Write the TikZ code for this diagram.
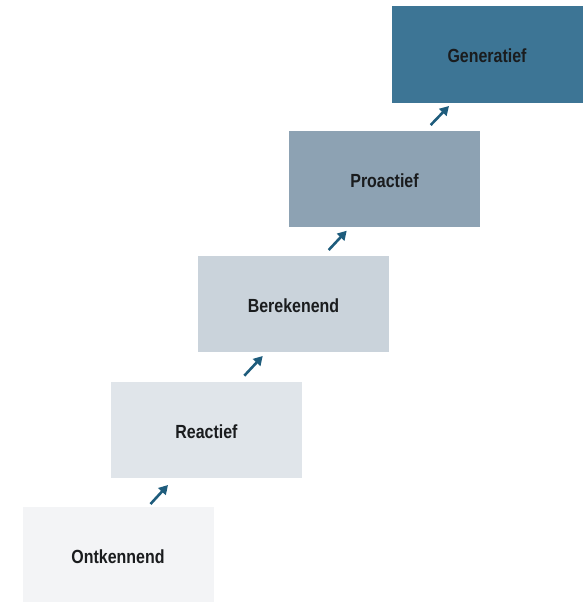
\documentclass[tikz,border=0pt]{standalone}
\usepackage{fontspec}
\setmainfont{Liberation Sans}[FakeStretch=0.84]
\usetikzlibrary{arrows.meta}
\definecolor{c1}{HTML}{F3F4F6}
\definecolor{c2}{HTML}{E0E5EA}
\definecolor{c3}{HTML}{CAD3DB}
\definecolor{c4}{HTML}{8DA2B3}
\definecolor{c5}{HTML}{3D7595}
\definecolor{arr}{HTML}{1E5C7C}
\definecolor{txt}{HTML}{1A1C1E}
\begin{document}
\begin{tikzpicture}[x=1pt,y=-1pt,
  stepbox/.style={minimum width=191pt,minimum height=96pt,inner sep=0pt,
    text height=17pt,text depth=0pt,
    font=\fontsize{19}{22}\selectfont\bfseries,text=txt},
  uparrow/.style={draw=arr,line width=2.6pt,-{Triangle[length=9pt,width=10pt]}}]
\useasboundingbox (0,0) rectangle (583,602);
\node[stepbox,fill=c1] (n1) at (118,555) {Ontkennend};
\node[stepbox,fill=c2] (n2) at (206.5,430) {Reactief};
\node[stepbox,fill=c3] (n3) at (293.5,303.5) {Berekenend};
\node[stepbox,fill=c4] (n4) at (384.5,179) {Proactief};
\node[stepbox,fill=c5] (n5) at (487,54.5) {Generatief};
\coordinate (a1s) at (150.5,504); \coordinate (a1e) at (168,485);
\coordinate (a2s) at (244.3,375.7); \coordinate (a2e) at (262.7,356);
\coordinate (a3s) at (328.7,250); \coordinate (a3e) at (346.7,230.7);
\coordinate (a4s) at (430.7,125); \coordinate (a4e) at (449,106);
\draw[uparrow] (a1s) -- (a1e);
\draw[uparrow] (a2s) -- (a2e);
\draw[uparrow] (a3s) -- (a3e);
\draw[uparrow] (a4s) -- (a4e);
\end{tikzpicture}
\end{document}
